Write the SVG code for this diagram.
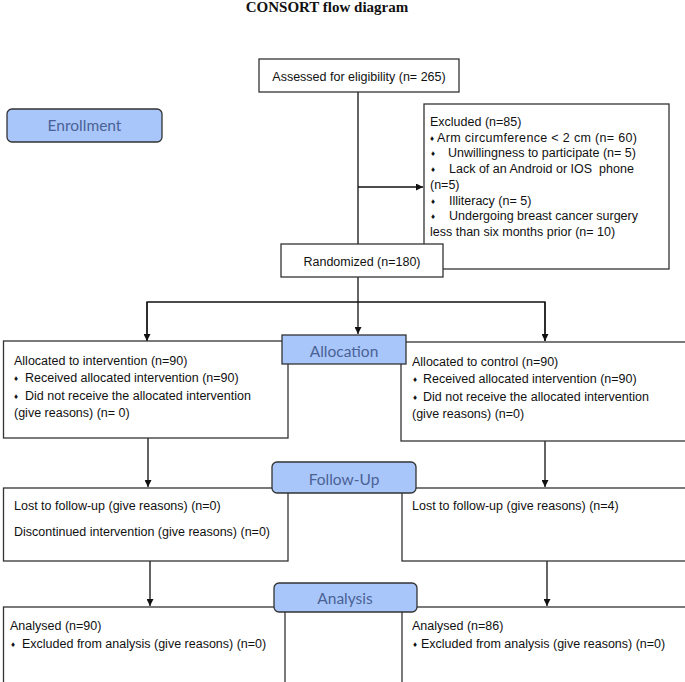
<svg xmlns="http://www.w3.org/2000/svg" width="685" height="682" viewBox="0 0 685 682">
<defs>
<style>
.box{fill:#fff;stroke:#333;stroke-width:1.3}
.lbl{fill:#a9c6fb;stroke:#333;stroke-width:1.3}
.t{font-family:"Liberation Sans",Arial,sans-serif;font-size:12.5px;fill:#111}
.lt{font-family:Lato,"Open Sans",sans-serif;font-size:15.5px;fill:#4a6294;text-anchor:middle}
.b{font-size:8px;baseline-shift:1.5px}
.ln{fill:none;stroke:#111;stroke-width:1.3}
</style>
<marker id="ah" viewBox="0 0 10 10" refX="10" refY="5" markerWidth="7" markerHeight="7" markerUnits="userSpaceOnUse" orient="auto">
<path d="M0,0 L10,5 L0,10 Z" fill="#111"/>
</marker>
</defs>
<rect width="685" height="682" fill="#fff"/>
<text x="327" y="12" font-family="'Liberation Serif','Times New Roman',serif" font-weight="bold" font-size="15" text-anchor="middle" fill="#111">CONSORT flow diagram</text>

<g id="connectors">
<line class="ln" x1="358" y1="92" x2="358" y2="244"/>
<line class="ln" x1="358" y1="187" x2="423" y2="187" marker-end="url(#ah)"/>
<line class="ln" x1="358" y1="277" x2="358" y2="334" marker-end="url(#ah)"/>
<polyline class="ln" points="147,341 147,302 545,302 545,341"/>
<line class="ln" x1="147" y1="302" x2="147" y2="341" marker-end="url(#ah)"/>
<line class="ln" x1="545" y1="302" x2="545" y2="341" marker-end="url(#ah)"/>
<line class="ln" x1="148" y1="438" x2="148" y2="487" marker-end="url(#ah)"/>
<line class="ln" x1="545" y1="441" x2="545" y2="487" marker-end="url(#ah)"/>
<line class="ln" x1="150" y1="561" x2="150" y2="606" marker-end="url(#ah)"/>
<line class="ln" x1="547" y1="561" x2="547" y2="606" marker-end="url(#ah)"/>
</g>

<g id="assessed">
<rect class="box" x="259" y="59" width="200" height="33"/>
<text class="t" x="359" y="80.5" text-anchor="middle">Assessed for eligibility (n= 265)</text>
</g>

<g id="enrollment">
<rect class="lbl" x="7" y="109" width="155" height="33" rx="5"/>
<text class="lt" x="84.5" y="131">Enrollment</text>
</g>

<g id="excluded">
<rect class="box" x="424" y="104" width="245" height="165"/>
<text class="t" x="430" y="126">Excluded (n=85)</text>
<text class="t" y="141.7"><tspan class="b" x="430">♦</tspan><tspan x="437" textLength="200" lengthAdjust="spacing">Arm circumference &lt; 2 cm (n= 60)</tspan></text>
<text class="t" y="157.4"><tspan class="b" x="431">♦</tspan><tspan x="448">Unwillingness to participate (n= 5)</tspan></text>
<text class="t" y="173.1" xml:space="preserve"><tspan class="b" x="431">♦</tspan><tspan x="449">Lack of an Android or IOS  phone</tspan></text>
<text class="t" x="430" y="188.8">(n=5)</text>
<text class="t" y="204.5"><tspan class="b" x="431">♦</tspan><tspan x="449">Illiteracy (n= 5)</tspan></text>
<text class="t" y="220.2"><tspan class="b" x="431">♦</tspan><tspan x="449">Undergoing breast cancer surgery</tspan></text>
<text class="t" x="430" y="235.9">less than six months prior (n= 10)</text>
</g>

<g id="randomized">
<rect class="box" x="281" y="244" width="162" height="33"/>
<text class="t" x="362" y="265.5" text-anchor="middle">Randomized (n=180)</text>
</g>

<g id="alloc-left">
<rect class="box" x="3.5" y="341" width="284.5" height="97"/>
<text class="t" x="14" y="364.5">Allocated to intervention (n=90)</text>
<text class="t" y="382"><tspan class="b" x="14">♦</tspan><tspan x="25">Received allocated intervention (n=90)</tspan></text>
<text class="t" y="399.5"><tspan class="b" x="14">♦</tspan><tspan x="25">Did not receive the allocated intervention</tspan></text>
<text class="t" x="14" y="417">(give reasons) (n= 0)</text>
</g>

<g id="alloc-right">
<rect class="box" x="401" y="342" width="285" height="99"/>
<text class="t" x="412" y="365.5">Allocated to control (n=90)</text>
<text class="t" y="383"><tspan class="b" x="413">♦</tspan><tspan x="423">Received allocated intervention (n=90)</tspan></text>
<text class="t" y="400.5"><tspan class="b" x="413">♦</tspan><tspan x="423">Did not receive the allocated intervention</tspan></text>
<text class="t" x="412" y="418">(give reasons) (n=0)</text>
</g>

<g id="allocation">
<rect class="lbl" x="282" y="335" width="124" height="29"/>
<text class="lt" x="344" y="357">Allocation</text>
</g>

<g id="follow-left">
<rect class="box" x="3.5" y="488" width="284.5" height="73"/>
<text class="t" x="14" y="509.5">Lost to follow-up (give reasons) (n=0)</text>
<text class="t" x="14" y="535.5">Discontinued intervention (give reasons) (n=0)</text>
</g>

<g id="follow-right">
<rect class="box" x="402" y="488" width="284" height="73"/>
<text class="t" x="412" y="509.5">Lost to follow-up (give reasons) (n=4)</text>
</g>

<g id="followup">
<rect class="lbl" x="272" y="462" width="144" height="31" rx="5"/>
<text class="lt" x="344" y="485">Follow-Up</text>
</g>

<g id="analysis-left">
<rect class="box" x="3.5" y="607" width="281.5" height="80"/>
<text class="t" x="10" y="629.5">Analysed (n=90)</text>
<text class="t" y="647.5"><tspan class="b" x="11">♦</tspan><tspan x="22">Excluded from analysis (give reasons) (n=0)</tspan></text>
</g>

<g id="analysis-right">
<rect class="box" x="402" y="607" width="284" height="80"/>
<text class="t" x="412" y="629.5">Analysed (n=86)</text>
<text class="t" y="647.5"><tspan class="b" x="413">♦</tspan><tspan x="421">Excluded from analysis (give reasons) (n=0)</tspan></text>
</g>

<g id="analysis">
<rect class="lbl" x="274" y="583" width="143" height="29" rx="5"/>
<text class="lt" x="345" y="604">Analysis</text>
</g>
</svg>
